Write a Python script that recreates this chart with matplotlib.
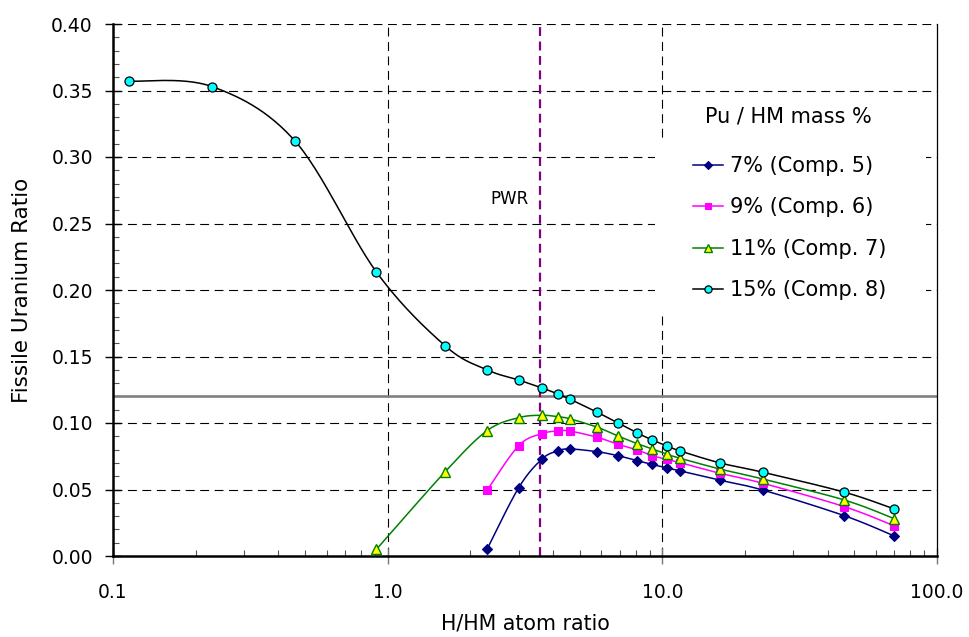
import numpy as np
import matplotlib
matplotlib.use("Agg")
import matplotlib.pyplot as plt
from matplotlib.patches import Rectangle
from matplotlib.ticker import FixedLocator, LogLocator, NullFormatter, FuncFormatter

plt.rcParams['font.family'] = ['DejaVu Sans']

# ---- data ----
x15 = [0.114, 0.229, 0.46, 0.91, 1.62, 2.3, 3.0, 3.65, 4.17, 4.6, 5.8, 6.9, 8.1, 9.2, 10.4, 11.6, 16.2, 23.2, 46.0, 70.0]
y15 = [0.357, 0.353, 0.312, 0.2135, 0.158, 0.140, 0.1323, 0.1263, 0.1218, 0.118, 0.108, 0.100, 0.0925, 0.0872, 0.0827, 0.079, 0.070, 0.063, 0.048, 0.0353]

x11 = [0.91, 1.62, 2.3, 3.0, 3.65, 4.17, 4.6, 5.8, 6.9, 8.1, 9.2, 10.4, 11.6, 16.2, 23.2, 46.0, 70.0]
y11 = [0.005, 0.0634, 0.0942, 0.104, 0.1058, 0.1047, 0.1032, 0.0968, 0.0902, 0.0845, 0.0805, 0.0765, 0.0735, 0.0654, 0.0579, 0.0421, 0.028]

x9 = [2.3, 3.0, 3.65, 4.17, 4.6, 5.8, 6.9, 8.1, 9.2, 10.4, 11.6, 16.2, 23.2, 46.0, 70.0]
y9 = [0.0494, 0.083, 0.092, 0.094, 0.094, 0.0892, 0.084, 0.0797, 0.0754, 0.0727, 0.0702, 0.0622, 0.0547, 0.0371, 0.0226]

x7 = [2.3, 3.0, 3.65, 4.17, 4.6, 5.8, 6.9, 8.1, 9.2, 10.4, 11.6, 16.2, 23.2, 46.0, 70.0]
y7 = [0.005, 0.0514, 0.073, 0.079, 0.0805, 0.0784, 0.0754, 0.0717, 0.0688, 0.0662, 0.064, 0.057, 0.0496, 0.0303, 0.015]

labels = ["7% (Comp. 5)", "9% (Comp. 6)", "11% (Comp. 7)", "15% (Comp. 8)"]
legend_title = "Pu / HM mass %"
pwr_label = "PWR"
pwr_x = 3.6
limit_y = 0.12
xticks = [0.1, 1.0, 10.0, 100.0]
yticks = [0.0, 0.05, 0.10, 0.15, 0.20, 0.25, 0.30, 0.35, 0.40]

XMIN, XMAX, YMIN, YMAX = 0.1, 100.0, 0.0, 0.40
AX_W, AX_H = 824.0, 532.0
FW, FH = 969.0, 637.0


def smooth(xs, ys, n=30):
    """Catmull-Rom style smoothing (like Excel smoothed lines) in screen-like space."""
    u = (np.log10(xs) - np.log10(XMIN)) / (np.log10(XMAX) - np.log10(XMIN)) * AX_W
    v = (np.asarray(ys) - YMIN) / (YMAX - YMIN) * AX_H
    P = np.column_stack([u, v])
    P = np.vstack([P[0], P, P[-1]])
    out = []
    t = np.linspace(0, 1, n)
    for i in range(1, len(P) - 2):
        p0, p1, p2, p3 = P[i - 1], P[i], P[i + 1], P[i + 2]
        c1 = p1 + (p2 - p0) / 6.0
        c2 = p2 - (p3 - p1) / 6.0
        seg = ((1 - t)[:, None] ** 3 * p1 + 3 * ((1 - t) ** 2 * t)[:, None] * c1
               + 3 * ((1 - t) * t ** 2)[:, None] * c2 + (t ** 3)[:, None] * p2)
        out.append(seg if i == 1 else seg[1:])
    S = np.vstack(out)
    sx = 10 ** (S[:, 0] / AX_W * (np.log10(XMAX) - np.log10(XMIN)) + np.log10(XMIN))
    sy = S[:, 1] / AX_H * (YMAX - YMIN) + YMIN
    return sx, sy


fig = plt.figure(figsize=(9.69, 6.37), dpi=100)
ax = fig.add_axes([113 / FW, 1 - 556 / FH, 824 / FW, 532 / FH])
ax.set_xscale('log')
ax.set_xlim(XMIN, XMAX)
ax.set_ylim(YMIN, YMAX)

# grid
grid_kw = dict(color='black', lw=0.8, linestyle=(0, (8, 5)), zorder=1)
for yv in yticks[1:]:
    ax.axhline(yv, **grid_kw)
for xv in xticks[1:-1]:
    ax.axvline(xv, **grid_kw)

# white legend background hiding the gridlines
ax.add_patch(Rectangle((655 / FW, 1 - 315 / FH), 271 / FW, 175 / FH,
                       transform=fig.transFigure, facecolor='white', edgecolor='none',
                       zorder=1.5))

ax.axhline(limit_y, color='#808080', lw=1.9, zorder=2)
ax.axvline(pwr_x, color='#800080', lw=1.6, linestyle=(0, (4, 2.5)), zorder=2)
ax.text(2.77, 0.2684, pwr_label, fontsize=12, ha='center', va='center')

series = [
    (x7, y7, dict(color='#000080', marker='D', mfc='#000080', mec='#000080', ms=5)),
    (x9, y9, dict(color='#FF00FF', marker='s', mfc='#FF00FF', mec='#FF00FF', ms=6)),
    (x11, y11, dict(color='#008000', marker='^', mfc='#FFFF00', mec='#008000', ms=6.5, mew=1.0)),
    (x15, y15, dict(color='black', marker='o', mfc='#00FFFF', mec='black', ms=6.5, mew=0.9)),
]
handles = []
for (xs, ys, st), lab in zip(series, labels):
    sx, sy = smooth(xs, ys)
    ax.plot(sx, sy, color=st['color'], lw=1.1, zorder=3)
    ax.plot(xs, ys, linestyle='none', marker=st['marker'], mfc=st['mfc'], mec=st['mec'],
            ms=st['ms'], mew=st.get('mew', 0.8), zorder=4)
    h, = ax.plot([], [], color=st['color'], lw=1.1, marker=st['marker'], mfc=st['mfc'],
                 mec=st['mec'], ms=st['ms'] * 0.8, mew=st.get('mew', 0.8), label=lab)
    handles.append(h)

leg = ax.legend(handles=handles, loc='upper left',
                bbox_to_anchor=(693 / FW, 1 - 156 / FH), bbox_transform=fig.transFigure,
                frameon=False, fontsize=15, handlelength=1.45,
                handletextpad=0.35, labelspacing=1.03, borderaxespad=0, borderpad=0)
leg.set_zorder(6)
fig.text(705 / FW, 1 - 117 / FH, legend_title, fontsize=15, ha='left', va='center')

# spines
ax.spines['top'].set_visible(False)
ax.spines['left'].set_linewidth(1.8)
ax.spines['bottom'].set_linewidth(1.8)
ax.spines['right'].set_linewidth(0.9)

ax.yaxis.set_major_locator(FixedLocator(yticks))
ax.yaxis.set_minor_locator(FixedLocator(np.round(np.arange(0, 0.4001, 0.01), 3)))
ax.yaxis.set_major_formatter(FuncFormatter(lambda v, p: f"{v:.2f}"))
ax.xaxis.set_major_locator(FixedLocator(xticks))
ax.xaxis.set_minor_locator(LogLocator(base=10, subs=np.arange(2, 10)))
ax.xaxis.set_minor_formatter(NullFormatter())
ax.xaxis.set_major_formatter(FuncFormatter(lambda v, p: f"{v:.1f}"))

ax.tick_params(axis='both', which='major', direction='inout', length=11, width=1.0,
               labelsize=13.5, color='black')
ax.tick_params(axis='both', which='minor', direction='in', length=4, width=0.8, color='#555555')
ax.tick_params(axis='x', which='major', pad=14, color='#777777')
ax.tick_params(axis='y', which='major', pad=9)

ax.set_xlabel("H/HM atom ratio", fontsize=14.8, labelpad=8.5)
ax.set_ylabel("Fissile Uranium Ratio", fontsize=15.5, labelpad=14)

fig.savefig("out.png", dpi=100)
